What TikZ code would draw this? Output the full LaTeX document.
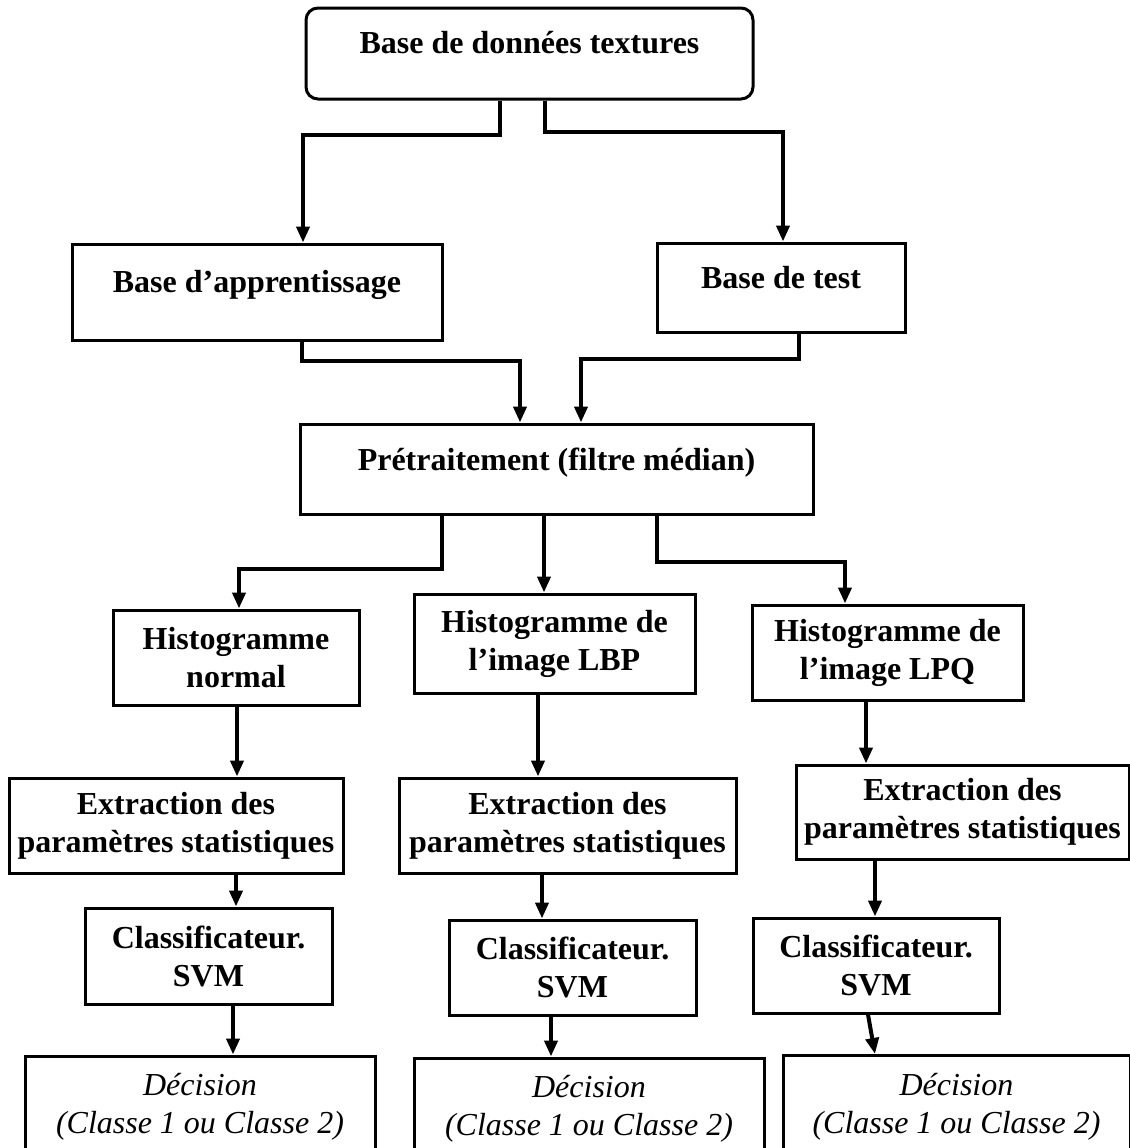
\documentclass[tikz,border=0pt]{standalone}
\usepackage{fontspec}
\setmainfont{Liberation Serif}
\usetikzlibrary{arrows.meta}

\begin{document}
\begin{tikzpicture}[x=0.5pt,y=-0.5pt]
	\tikzstyle{bloc} = [draw=black, line width=1.5pt, rectangle, inner sep=0pt, align=center, font=\fontsize{16}{19}\selectfont\bfseries]
	\tikzstyle{decision} = [bloc, font=\fontsize{16}{19}\selectfont\itshape]
	\tikzstyle{fleche} = [draw=black, line width=2pt, -{Triangle[length=8pt,width=6.5pt]}]
	\clip (0,0) rectangle (1130,1148);

	% bases
	\node[bloc, rounded corners=6pt, minimum width=223.5pt, text height=22.5pt, text depth=23pt] (db) at (529.5,53.5) {Base de données textures};
	\node[bloc, minimum width=185pt, text height=24pt, text depth=24pt] (app) at (257,292) {Base d’apprentissage};
	\node[bloc, minimum width=124pt, text height=22.5pt, text depth=22pt] (test) at (781,287.5) {Base de test};
	\node[bloc, minimum width=256.5pt, text height=23pt, text depth=22pt] (pre) at (556.5,469) {Prétraitement (filtre médian)};

	% histogrammes
	\node[bloc, minimum width=123pt, minimum height=47.5pt] (hn) at (236,657.5) {Histogramme\\normal};
	\node[bloc, minimum width=140.5pt, minimum height=49.5pt] (hlbp) at (554.5,643.5) {Histogramme de\\l’image LBP};
	\node[bloc, minimum width=135.5pt, minimum height=47.5pt] (hlpq) at (887.5,652.5) {Histogramme de\\l’image LPQ};

	% extraction
	\node[bloc, minimum width=167pt, minimum height=47.5pt] (ex1) at (176,825.5) {Extraction des\\paramètres statistiques};
	\node[bloc, minimum width=168.5pt, minimum height=47.5pt] (ex2) at (567.5,825.5) {Extraction des\\paramètres statistiques};
	\node[bloc, minimum width=166.5pt, minimum height=47pt] (ex3) at (962.5,812) {Extraction des\\paramètres statistiques};

	% classificateurs
	\node[bloc, minimum width=123.5pt, minimum height=48pt] (c1) at (208.5,956) {Classificateur.\\SVM};
	\node[bloc, minimum width=123.5pt, minimum height=47.5pt] (c2) at (572.5,967.5) {Classificateur.\\SVM};
	\node[bloc, minimum width=123pt, minimum height=47.5pt] (c3) at (876,965.5) {Classificateur.\\SVM};

	% decisions
	\node[decision, minimum width=175pt, minimum height=51pt] (d1) at (200,1107) {Décision\\(Classe 1 ou Classe 2)};
	\node[decision, minimum width=175pt, minimum height=51pt] (d2) at (589,1109) {Décision\\(Classe 1 ou Classe 2)};
	\node[decision, minimum width=173.5pt, minimum height=51pt] (d3) at (956.5,1106.5) {Décision\\(Classe 1 ou Classe 2)};

	\draw[fleche] ([xshift=-14.75pt]db.south) -- ++(0,34) -| ([xshift=23pt]app.north);
	\draw[fleche] ([xshift=7.75pt]db.south) -- ++(0,31) -| ([xshift=1pt]test.north);
	\draw[fleche] ([xshift=22.5pt]app.south) -- ++(0,19) -| ([xshift=-18.25pt]pre.north);
	\draw[fleche] ([xshift=9pt]test.south) -- ++(0,25) -| ([xshift=12.25pt]pre.north);
	\draw[fleche] ([xshift=-57.25pt]pre.south) -- ++(0,53) -| ([xshift=1.5pt]hn.north);
	\draw[fleche] ([xshift=-6.25pt]pre.south) -- ([xshift=-5.25pt]hlbp.north);
	\draw[fleche] ([xshift=50.25pt]pre.south) -- ++(0,46) -| ([xshift=-21.25pt]hlpq.north);

	\draw[fleche] ([xshift=0.5pt]hn.south) -- ([xshift=30.5pt]ex1.north);
	\draw[fleche] ([xshift=-8.25pt]hlbp.south) -- ([xshift=-14.75pt]ex2.north);
	\draw[fleche] ([xshift=-10.75pt]hlpq.south) -- ([xshift=-48.25pt]ex3.north);

	\draw[fleche] ([xshift=30pt]ex1.south) -- ([xshift=13.75pt]c1.north);
	\draw[fleche] ([xshift=-12.75pt]ex2.south) -- ([xshift=-15.25pt]c2.north);
	\draw[fleche] ([xshift=-43.75pt]ex3.south) -- ([xshift=-0.5pt]c3.north);

	\draw[fleche] ([xshift=12.25pt]c1.south) -- ([xshift=16.5pt]d1.north);
	\draw[fleche] ([xshift=-10.75pt]c2.south) -- ([xshift=-19pt]d2.north);
	\draw[fleche] ([xshift=-4pt]c3.south) -- ([xshift=-40.75pt]d3.north);
\end{tikzpicture}
\end{document}
